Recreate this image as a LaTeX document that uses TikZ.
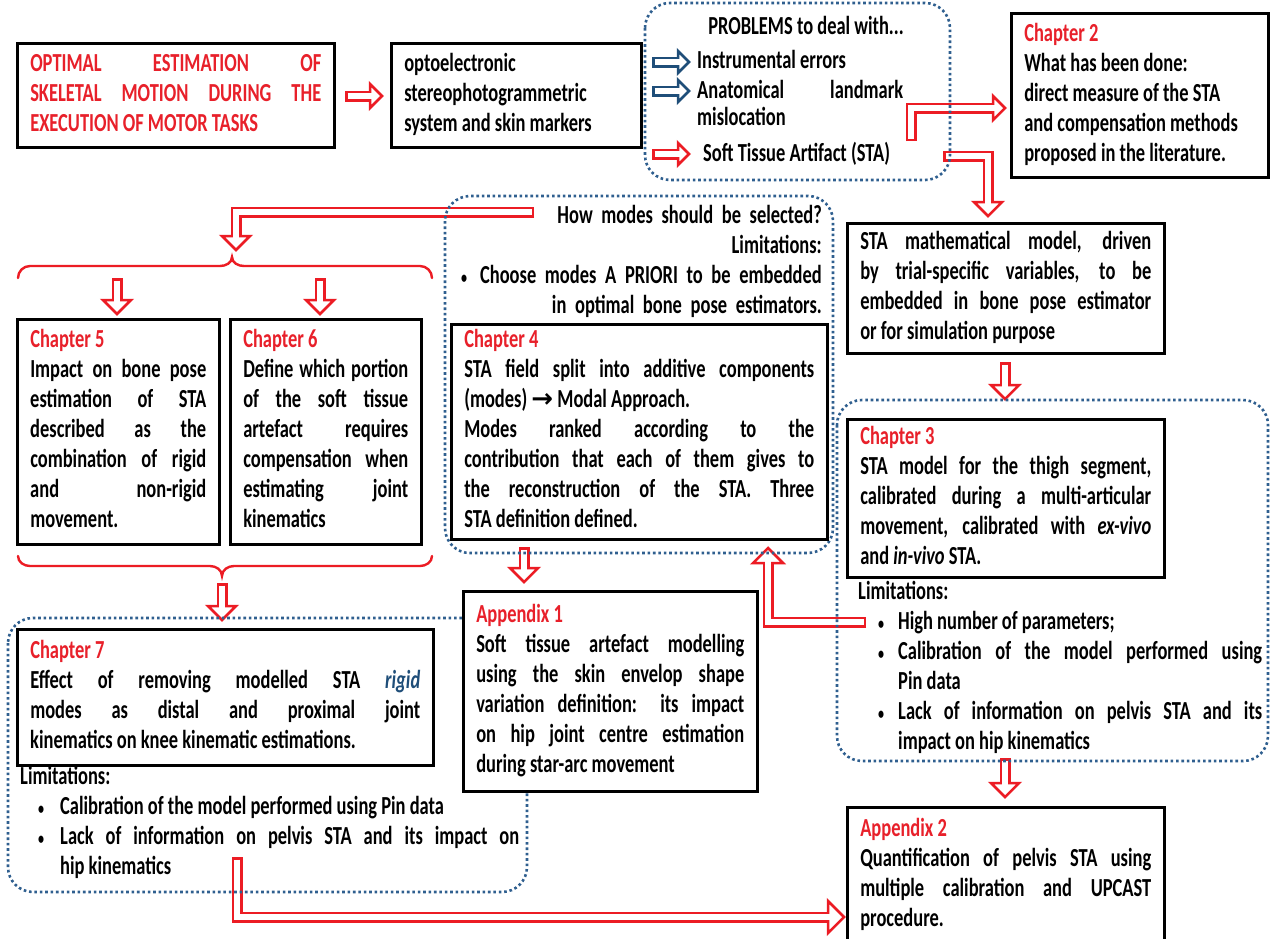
\documentclass[tikz,border=0pt]{standalone}
\usepackage{fontspec}
\newfontfamily\mf[FakeStretch=0.71]{Carlito}
\newfontfamily\symf{DejaVu Sans}
\definecolor{tred}{HTML}{E8202A}
\definecolor{ared}{HTML}{EC1C24}
\definecolor{dblue}{HTML}{2F5F8F}
\definecolor{ablue}{HTML}{1F4E79}
\newcommand\dfont{\mf\bfseries\fontsize{26}{30}\selectfont\tolerance=10000\hyphenpenalty=10000\exhyphenpenalty=10000\relax}
\newcommand\bul{{\fontsize{17}{30}\selectfont•}}
\newcommand\bitem[3]{\noindent\hangindent=#2pt\hangafter=1\relax\makebox[#2pt][l]{\hspace*{#1pt}\bul}#3\par}
% hollow block arrow: #1 colour, #2 shaft path, #3 head base, #4 angle, #5 head half width
\newcommand\harrow[5]{%
  \draw[#1, line width=11pt, line join=miter] #2;
  \begin{scope}[shift={#3}, rotate=#4]
    \draw[#1, line width=2.5pt, fill=white, line join=miter] (0,-#5) -- (#5,0) -- (0,#5) -- cycle;
  \end{scope}
  \draw[white, line width=6pt, line join=miter, shorten <=2.5pt, shorten >=-2.4pt] #2;
}
\tikzset{
  box/.style={draw=black, line width=2.5pt, fill=white, anchor=north west, inner xsep=13pt, inner ysep=0pt, align=justify, font=\dfont},
  txt/.style={inner sep=0pt, font=\dfont},
  reg/.style={draw=dblue, line width=2.6pt, dash pattern=on 2.6pt off 2.8pt, rounded corners=25pt},
  brace/.style={draw=ared, line width=2.4pt, line cap=round},
}
\begin{document}
\begin{tikzpicture}[x=1pt,y=-1pt]
\useasboundingbox[fill=white] (0,0) rectangle (1271,938);

% ---------- arrows ----------
\harrow{ared}{(345,96) -- (370,96)}{(370,96)}{0}{12}
\harrow{ablue}{(652,62) -- (678,62)}{(678,62)}{0}{11}
\harrow{ablue}{(652,91) -- (678,91)}{(678,91)}{0}{11}
\harrow{ared}{(652,154) -- (678,154)}{(678,154)}{0}{11}
\harrow{ared}{(911,141) -- (911,108) -- (993,108)}{(993,108)}{0}{12}
\harrow{ared}{(943,156) -- (988,156) -- (988,202)}{(988,202)}{-90}{14}
\harrow{ared}{(1005,362) -- (1005,385)}{(1005,385)}{-90}{14}
\harrow{ared}{(866,622) -- (768,622) -- (768,563)}{(768,563)}{90}{15}
\harrow{ared}{(1005,758) -- (1005,783)}{(1005,783)}{-90}{14}
\harrow{ared}{(524,547) -- (524,568)}{(524,568)}{-90}{14}
\harrow{ared}{(534,212) -- (236,212) -- (236,236)}{(236,236)}{-90}{14}
\harrow{ared}{(117,278) -- (117,300)}{(117,300)}{-90}{14}
\harrow{ared}{(320,278) -- (320,300)}{(320,300)}{-90}{14}
\harrow{ared}{(222,583) -- (222,606)}{(222,606)}{-90}{14}
\harrow{ared}{(237,857) -- (237,917) -- (828,917)}{(828,917)}{0}{16}

% ---------- braces ----------
\draw[brace] (18,278) to[out=90,in=180] (30,266) -- (220,266) to[out=0,in=-90] (232,257)
  to[out=-90,in=180] (244,266) -- (420,266) to[out=0,in=90] (432,278);
\draw[brace] (18,556) to[out=-90,in=180] (30,566) -- (210,566) to[out=0,in=90] (222,576)
  to[out=90,in=180] (234,566) -- (420,566) to[out=0,in=-90] (432,556);

% ---------- dotted regions ----------
\draw[reg] (645,3) rectangle (950,180);
\draw[reg] (445,196) rectangle (833,553);
\draw[reg] (837,400) rectangle (1268,761);
\draw[reg] (8,618) rectangle (527,892);

% ---------- boxes ----------
\node[box, text=tred, minimum width=317pt, minimum height=104pt, text width=291pt] (A) at (16,42)
 {\strut OPTIMAL ESTIMATION OF\linebreak SKELETAL MOTION DURING THE\linebreak EXECUTION OF MOTOR TASKS\strut};
\node[box, minimum width=250pt, minimum height=104pt, text width=224pt] (B) at (390,42)
 {\strut optoelectronic\\ stereophotogrammetric\\ system and skin markers\strut};
\node[box, minimum width=257pt, minimum height=164pt, text width=231pt] (ch2) at (1010,12)
 {\strut\textcolor{tred}{Chapter 2}\\ What has been done:\\ direct measure of the STA\\ and compensation methods\\ proposed in the literature.\strut};
\node[box, minimum width=317pt, minimum height=130pt, text width=291pt] (sta) at (846,222)
 {\strut STA mathematical model, driven\linebreak by trial-specific variables, to be\linebreak embedded in bone pose estimator\linebreak or for simulation purpose\strut};
\node[box, minimum width=317pt, minimum height=158pt, text width=291pt] (ch3) at (846,418)
 {\strut\textcolor{tred}{Chapter 3}\\ STA model for the thigh segment,\linebreak calibrated during a multi-articular\linebreak movement, calibrated with \textit{ex-vivo}\linebreak and \textit{in-vivo} STA.\strut};
\node[box, minimum width=376pt, minimum height=215pt, text width=350pt] (ch4) at (450,323)
 {\strut\textcolor{tred}{Chapter 4}\\ STA field split into additive components\linebreak (modes) {\symf\bfseries →} Modal Approach.\\ Modes ranked according to the\linebreak contribution that each of them gives to\linebreak the reconstruction of the STA. Three\linebreak STA definition defined.\strut};
\node[box, minimum width=202pt, minimum height=225pt, text width=176pt] (ch5) at (16,318)
 {\strut\textcolor{tred}{Chapter 5}\\ Impact on bone pose\linebreak estimation of STA\linebreak described as the\linebreak combination of rigid\linebreak and non-rigid\linebreak movement.\strut};
\node[box, minimum width=191pt, minimum height=225pt, text width=165pt] (ch6) at (229,318)
 {\strut\textcolor{tred}{Chapter 6}\\ Define which portion\linebreak of the soft tissue\linebreak artefact requires\linebreak compensation when\linebreak estimating joint\linebreak kinematics\strut};
\node[box, minimum width=416pt, minimum height=136pt, text width=390pt] (ch7) at (16,628)
 {\strut\textcolor{tred}{Chapter 7}\\ Effect of removing modelled STA \textcolor{ablue}{\textit{rigid}}\linebreak modes as distal and proximal joint\linebreak kinematics on knee kinematic estimations.\strut};
\node[box, minimum width=294pt, minimum height=200pt, text width=268pt] (app1) at (462,590)
 {\strut\textcolor{tred}{Appendix 1}\\ Soft tissue artefact modelling\linebreak using the skin envelop shape\linebreak variation definition: its impact\linebreak on hip joint centre estimation\linebreak during star-arc movement\strut};
\node[box, minimum width=317pt, minimum height=136pt, text width=291pt] (app2) at (846,806)
 {\strut\textcolor{tred}{Appendix 2}\\ Quantification of pelvis STA using\linebreak multiple calibration and UPCAST\linebreak procedure.\strut};

% ---------- free texts ----------
\node[txt, anchor=base] (ptitle) at (806,34) {PROBLEMS to deal with...};
\node[txt, anchor=base west] (p1) at (697,68) {Instrumental errors};
\node[txt, anchor=north west, text width=206pt, align=justify, font=\dfont\fontsize{26}{26}\selectfont] (p2) at (697,80)
 {\strut Anatomical landmark\linebreak mislocation\strut};
\node[txt, anchor=base west] (p3) at (703,161) {Soft Tissue Artifact (STA)};

\node[txt, anchor=north east, text width=375pt, align=right] (q4) at (822,202)
 {\strut How modes should be selected?\\ Limitations:\\ \bul\enspace Choose modes A PRIORI to be embedded\\ in optimal bone pose estimators.\strut};

\node[txt, anchor=north west, text width=404pt, align=justify] (lim3) at (858,578)
 {\strut Limitations:\par
  \bitem{20}{40}{High number of parameters;}
  \bitem{20}{40}{Calibration of the model performed using\linebreak Pin data}
  \bitem{20}{40}{Lack of information on pelvis STA and its\linebreak impact on hip kinematics\strut}};

\node[txt, anchor=north west, text width=499pt, align=justify] (lim7) at (20,763)
 {\strut Limitations:\par
  \bitem{18}{40}{Calibration of the model performed using Pin data}
  \bitem{18}{40}{Lack of information on pelvis STA and its impact on\linebreak hip kinematics\strut}};
\end{tikzpicture}
\end{document}
